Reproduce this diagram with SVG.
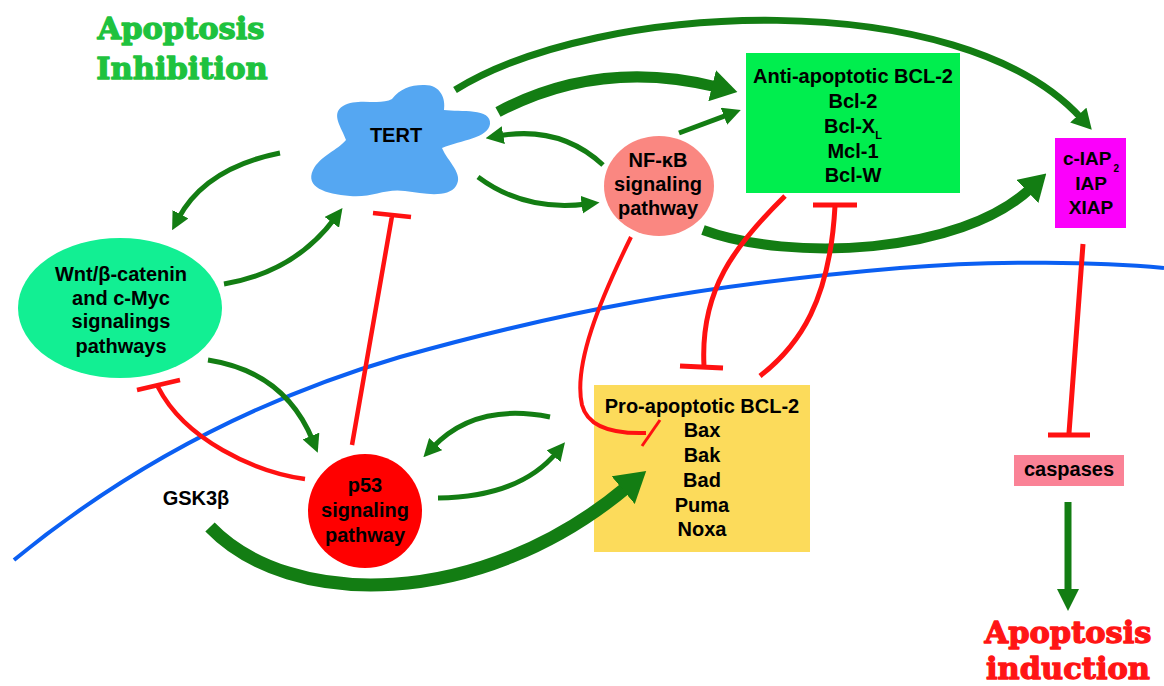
<svg xmlns="http://www.w3.org/2000/svg" width="1164" height="686" viewBox="0 0 1164 686">
<style>
.t{font-family:"Liberation Sans",Arial,sans-serif;font-weight:bold;font-size:20px;text-anchor:middle;fill:#000}
.title{font-family:"DejaVu Serif","Liberation Serif",serif;font-weight:bold;font-size:30.5px;text-anchor:middle;stroke-width:1.3;stroke-linejoin:round}
.tg{fill:#1ec23e;stroke:#1ec23e}
.tr{fill:#ff1515;stroke:#ff1515}
.g{fill:none;stroke:#137d13;stroke-width:5}
.r{fill:none;stroke:#ff1111;stroke-width:4.5}
</style>
<defs>
<marker id="ahS" markerUnits="userSpaceOnUse" markerWidth="18" markerHeight="18" viewBox="0 0 10 10" refX="3" refY="5" orient="auto"><path d="M0,0 L10,5 L0,10 z" fill="#137d13"/></marker>
<marker id="ahM" markerUnits="userSpaceOnUse" markerWidth="20" markerHeight="22" viewBox="0 0 20 22" refX="4" refY="11" orient="auto"><path d="M0,0 L20,11 L0,22 z" fill="#137d13"/></marker>
<marker id="ahL" markerUnits="userSpaceOnUse" markerWidth="26" markerHeight="32" viewBox="0 0 26 32" refX="5" refY="16" orient="auto"><path d="M0,0 L26,16 L0,32 z" fill="#137d13"/></marker>
<marker id="ahXL" markerUnits="userSpaceOnUse" markerWidth="30" markerHeight="36" viewBox="0 0 30 36" refX="5" refY="18" orient="auto"><path d="M0,0 L30,18 L0,36 z" fill="#137d13"/></marker>
<marker id="ahD" markerUnits="userSpaceOnUse" markerWidth="22" markerHeight="22" viewBox="0 0 22 22" refX="3" refY="11" orient="auto"><path d="M0,0 L22,11 L0,22 z" fill="#137d13"/></marker>
</defs>
<rect width="1164" height="686" fill="#fff"/>
<path id="membrane" d="M 14,560 C 130,465 260,398 400,357 C 560,312 700,285 900,268 C 1000,260 1100,262 1164,268" fill="none" stroke="#0b5ff2" stroke-width="4"/>
<g id="labels">
<text class="title tg" x="181" y="39">Apoptosis</text>
<text class="title tg" x="182" y="79">Inhibition</text>
<text class="title tr" x="1068" y="643">Apoptosis</text>
<text class="title tr" x="1068" y="679">induction</text>
<text class="t" x="196" y="505">GSK3β</text>
</g>
<g id="node-tert">
<path d="M 423,85 C 440,84 446,98 444,110 C 460,112 492,108 490,124 C 488,138 462,140 442,148 C 448,162 464,174 456,186 C 448,198 425,194 405,191 C 385,188 372,198 350,196 C 325,194 305,187 313,170 C 320,156 338,150 346,140 C 342,128 330,114 343,106 C 358,97 380,106 392,99 C 400,89 410,85 423,85 Z" fill="#55a7f2"/>
<text class="t" x="396" y="142">TERT</text>
</g>
<g id="node-nfkb">
<ellipse cx="659" cy="186" rx="55" ry="50" fill="#fa8781"/>
<text class="t" x="658" y="167">NF-κB</text>
<text class="t" x="658" y="191">signaling</text>
<text class="t" x="658" y="215">pathway</text>
</g>
<g id="node-antibcl2">
<rect x="746" y="53" width="214" height="140" fill="#00ee4e"/>
<text class="t" x="853" y="83">Anti-apoptotic BCL-2</text>
<text class="t" x="853" y="108">Bcl-2</text>
<text class="t" x="853" y="133">Bcl-X<tspan font-size="11" dy="6">L</tspan></text>
<text class="t" x="853" y="158">Mcl-1</text>
<text class="t" x="853" y="182">Bcl-W</text>
</g>
<g id="node-iap">
<rect x="1055" y="138" width="71" height="90" fill="#fb00fb"/>
<text class="t" x="1091" y="165" style="font-size:19px">c-IAP<tspan font-size="10" dy="7" dx="2">2</tspan></text>
<text class="t" x="1091" y="190" style="font-size:19px">IAP</text>
<text class="t" x="1091" y="214" style="font-size:19px">XIAP</text>
</g>
<g id="node-wnt">
<ellipse cx="120" cy="308" rx="102" ry="70" fill="#12ef93"/>
<text class="t" x="121" y="281">Wnt/β-catenin</text>
<text class="t" x="121" y="305">and c-Myc</text>
<text class="t" x="121" y="328">signalings</text>
<text class="t" x="121" y="353">pathways</text>
</g>
<g id="node-p53">
<circle cx="365" cy="511" r="57" fill="#ff0000"/>
<text class="t" x="365" y="492">p53</text>
<text class="t" x="365" y="517">signaling</text>
<text class="t" x="365" y="542">pathway</text>
</g>
<g id="node-probcl2">
<rect x="594" y="385" width="216" height="167" fill="#fcdb5b"/>
<text class="t" x="702" y="413">Pro-apoptotic BCL-2</text>
<text class="t" x="702" y="437">Bax</text>
<text class="t" x="702" y="462">Bak</text>
<text class="t" x="702" y="487">Bad</text>
<text class="t" x="702" y="512">Puma</text>
<text class="t" x="702" y="536">Noxa</text>
</g>
<g id="node-caspases">
<rect x="1014" y="455" width="110" height="31" fill="#fa8296"/>
<text class="t" x="1069" y="476">caspases</text>
</g>
<g id="connectors">
<path class="g" d="M 280,153 Q 205,168 178,219" marker-end="url(#ahS)"/>
<path class="g" d="M 224,284 Q 295,272 335,218" marker-end="url(#ahS)"/>
<path class="g" d="M 478,177 Q 525,212 587,204" marker-end="url(#ahS)"/>
<path class="g" d="M 603,165 Q 560,125 498,136" marker-end="url(#ahS)"/>
<path class="g" d="M 679,133 L 729,114.4" marker-end="url(#ahS)"/>
<path class="g" d="M 498,112 Q 600,58 717,87" style="stroke-width:11" marker-end="url(#ahL)"/>
<path class="g" d="M 455,90 C 600,0 960,-15 1081,118" style="stroke-width:7" marker-end="url(#ahM)"/>
<path class="g" d="M 703,230 C 790,262 960,255 1031,188" style="stroke-width:10" marker-end="url(#ahL)"/>
<path class="g" d="M 208,360 Q 285,372 313,441" marker-end="url(#ahS)"/>
<path class="g" d="M 550,417 Q 475,402 432,448" marker-end="url(#ahS)"/>
<path class="g" d="M 438,498 Q 520,497 557,452" marker-end="url(#ahS)"/>
<path class="g" d="M 210,527 C 290,610 480,610 627,487" style="stroke-width:13" marker-end="url(#ahXL)"/>
<path class="g" d="M 1068,502 L 1068,592" style="stroke-width:7" marker-end="url(#ahD)"/>
<path class="r" d="M 352,445 L 392,216 M 373,213 L 411,217"/>
<path class="r" d="M 305,479 C 255,472 185,440 158,387 M 137,390 L 180,380"/>
<path class="r" d="M 631,237 C 600,300 573,365 582,405 C 588,428 615,434 646,433" style="stroke-width:4"/>
<path class="r" d="M 642,446 L 660,420" style="stroke-width:3"/>
<path class="r" d="M 760,376 C 800,345 830,300 835,206 M 813,205 L 857,205" style="stroke-width:5"/>
<path class="r" d="M 785,196 C 735,245 700,290 704,366 M 680,366 L 723,368" style="stroke-width:5"/>
<path class="r" d="M 1083,244 L 1069,433 M 1048,435 L 1090,435" style="stroke-width:5"/>
</g>
</svg>
